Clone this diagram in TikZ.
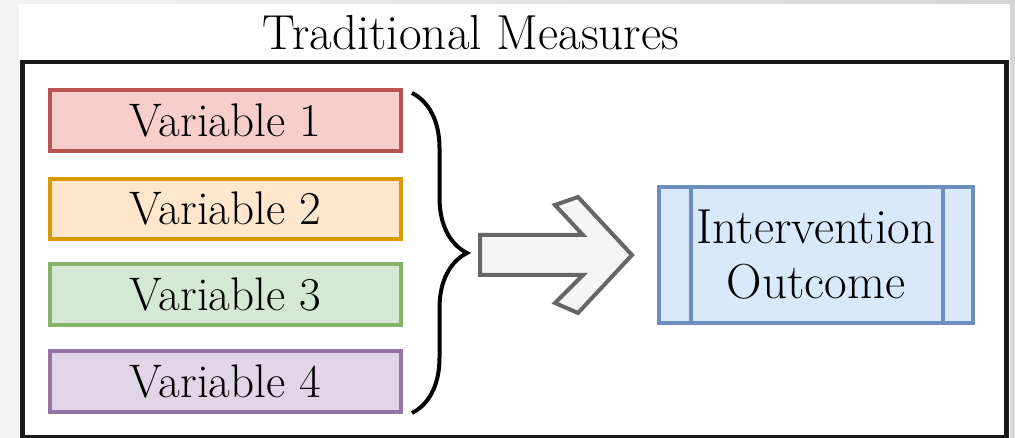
\documentclass[tikz,border=0pt]{standalone}
\usepackage{xcolor}
\usetikzlibrary{decorations.pathreplacing}
\definecolor{redline}{HTML}{B85450}
\definecolor{redfill}{HTML}{F8CECC}
\definecolor{orangeline}{HTML}{D79B00}
\definecolor{orangefill}{HTML}{FFE6CC}
\definecolor{greenline}{HTML}{82B366}
\definecolor{greenfill}{HTML}{D5E8D4}
\definecolor{purpleline}{HTML}{9673A6}
\definecolor{purplefill}{HTML}{E1D5E7}
\definecolor{blueline}{HTML}{6C8EBF}
\definecolor{bluefill}{HTML}{DAE8FC}
\tikzset{
    varbox/.style = {
        draw,
        line width      = 0.1cm,
        minimum width   = 8.775cm,
        minimum height  = 1.5cm,
        inner sep = 0pt,
        font = \fontsize{33.5}{39}\selectfont,
    }
}

\begin{document}
\begin{tikzpicture}[x=0.025cm,y=-0.025cm]
  % Page
  \useasboundingbox (0,0) rectangle (1015,438);
  \shade[left color=black!5,right color=black!16] (0,0) rectangle (1015,438);
  \fill[white] (19,4) rectangle (1010,438);

  % Title and frame
  \node[anchor=base,font=\fontsize{35}{40}\selectfont] (Title) at (471,50) {Traditional Measures};
  \node[draw=black!90,line width=0.12cm,minimum width=24.575cm,minimum height=9.375cm,inner sep=0pt] (Frame) at (514.5,249.5) {};

  % Variables
  \node[varbox,draw=redline,fill=redfill] (Variable1) at (225.5,120.5) {Variable 1};
  \node[varbox,draw=orangeline,fill=orangefill] (Variable2) at (225.5,209) {Variable 2};
  \node[varbox,draw=greenline,fill=greenfill] (Variable3) at (225.5,294.5) {Variable 3};
  \node[varbox,draw=purpleline,fill=purplefill] (Variable4) at (225.5,381.5) {Variable 4};

  % Brace
  \coordinate (BraceTop) at (412,93);
  \coordinate (BraceBottom) at (412,413);
  \draw[decorate,decoration={brace,amplitude=1.375cm},line width=0.1cm,draw=black] (BraceTop) to (BraceBottom);

  % Arrow
  \draw[draw=black!60,fill=black!4,line width=0.1cm,line join=miter]
    (480,235) -- (583,235) -- (555,205) -- (578,197) -- (632,255)
    -- (578,313) -- (555,303) -- (583,275) -- (480,275) -- cycle;

  % Outcome
  \node[draw=blueline,fill=bluefill,line width=0.1cm,minimum width=7.85cm,minimum height=3.4cm,inner sep=0pt,align=center,font=\fontsize{35}{39}\selectfont] (Outcome) at (816,255) {Intervention\\Outcome};
  \draw[draw=blueline,line width=0.1cm] ([xshift=0.84cm]Outcome.north west) to ([xshift=0.84cm]Outcome.south west);
  \draw[draw=blueline,line width=0.1cm] ([xshift=-0.79cm]Outcome.north east) to ([xshift=-0.79cm]Outcome.south east);

\end{tikzpicture}
\end{document}
